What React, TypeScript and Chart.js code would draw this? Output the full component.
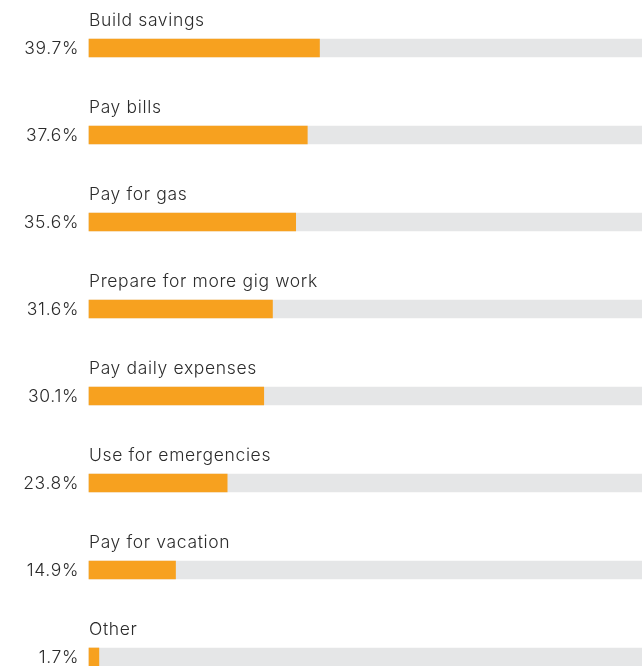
import React, { useEffect, useRef } from "react";
import { Chart, registerables } from "chart.js";

Chart.register(...registerables);

const categories = [
  "Build savings",
  "Pay bills",
  "Pay for gas",
  "Prepare for more gig work",
  "Pay daily expenses",
  "Use for emergencies",
  "Pay for vacation",
  "Other",
];
const values = [39.7, 37.6, 35.6, 31.6, 30.1, 23.8, 14.9, 1.7];
const trackValues = [100, 100, 100, 100, 100, 100, 100, 100];
const valueLabels = ["39.7%", "37.6%", "35.6%", "31.6%", "30.1%", "23.8%", "14.9%", "1.7%"];

const FONT = "Inter, 'Open Sans', sans-serif";

const labelPlugin = {
  id: "rowLabels",
  afterDatasetsDraw(chart: any) {
    const ctx = chart.ctx;
    const meta = chart.getDatasetMeta(1);
    ctx.save();
    meta.data.forEach((bar: any, i: number) => {
      const y = bar.y;
      ctx.fillStyle = "#2b2b2b";
      ctx.font = `300 17.5px ${FONT}`;
      (ctx as any).letterSpacing = "0.65px";
      ctx.textAlign = "left";
      ctx.textBaseline = "middle";
      ctx.fillText(categories[i], chart.chartArea.left, y - 27);
      ctx.textAlign = "right";
      ctx.fillText(valueLabels[i], chart.chartArea.left - 10, y + 0.5);
    });
    ctx.restore();
  },
};

export default function App() {
  const ref = useRef<HTMLCanvasElement>(null);
  useEffect(() => {
    if (!ref.current) return;
    const chart = new Chart(ref.current, {
      type: "bar",
      data: {
        labels: categories,
        datasets: [
          {
            data: trackValues,
            backgroundColor: "#e5e6e7",
            barThickness: 18,
            grouped: false,
            order: 2,
            clip: false as any,
          } as any,
          {
            data: values,
            backgroundColor: "#f7a11f",
            barThickness: 18,
            grouped: false,
            order: 1,
            clip: false as any,
          } as any,
        ],
      },
      options: {
        indexAxis: "y",
        animation: false,
        responsive: false,
        maintainAspectRatio: false,
        events: [],
        layout: { padding: { left: 89, right: 0, top: 48, bottom: 9 } },
        plugins: { legend: { display: false }, tooltip: { enabled: false } },
        scales: {
          x: { display: false, min: 0, max: 95.25 },
          y: { display: false, offset: false },
        },
      },
      plugins: [labelPlugin],
    });
    return () => chart.destroy();
  }, []);
  return (
    <div style={{ position: "absolute", left: 0, top: 0, width: 642, height: 666, overflow: "hidden", background: "#fff" }}>
      <canvas ref={ref} width={642} height={666} style={{ display: "block" }} />
    </div>
  );
}
